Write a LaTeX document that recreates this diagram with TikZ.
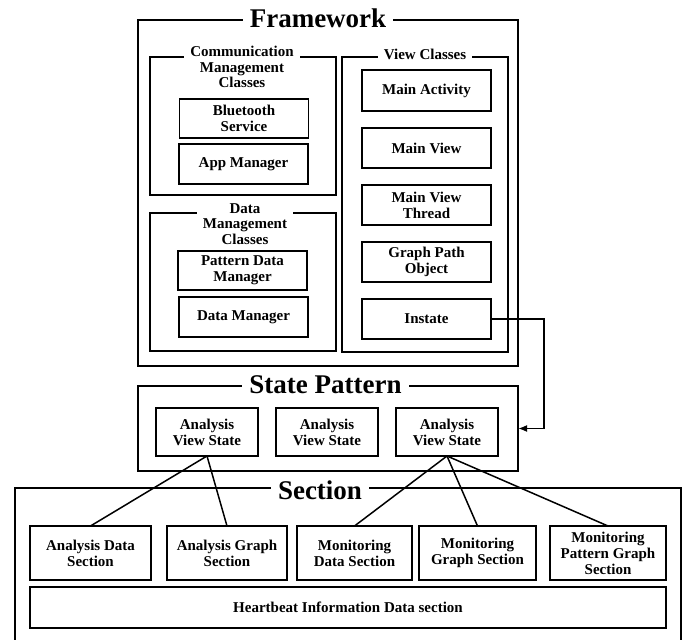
\documentclass[tikz,border=0pt]{standalone}
\usepackage{fontspec}
\setmainfont{Liberation Serif}
\usetikzlibrary{arrows.meta, positioning}

\begin{document}
\begin{tikzpicture}[
      x=1pt, y=-1pt,
      frame/.style={draw=black, line width=1.8pt, inner sep=0pt, outer sep=0pt},
      box/.style={frame, minimum width=129pt, minimum height=40pt, align=center, font=\bfseries\fontsize{15}{16}\selectfont},
      heading/.style={fill=white, inner xsep=7pt, inner ysep=1pt, font=\bfseries\fontsize{27}{30}\selectfont},
      subheading/.style={fill=white, inner xsep=6pt, inner ysep=1pt, align=center, font=\bfseries\fontsize{15}{15.5}\selectfont},
      link/.style={line width=1.5pt},
      feed/.style={line width=1.8pt, -{Latex[length=9pt, width=7pt]}}
    ]
    \useasboundingbox (0,0) rectangle (692,639);
    \clip (0,0) rectangle (692,639);

    % framework
    \node[frame, minimum width=380pt, minimum height=346pt] (framework) at (328,193) {};
    \node[heading] at (318,18) {Framework};

    \node[frame, minimum width=186pt, minimum height=138pt] (comm) at (243,126) {};
    \node[subheading] at (242,67) {Communication\\Management\\Classes};
    \node[box, minimum height=39pt] (bluetooth) at (244,118.5) {Bluetooth\\Service};
    \node[box] (appmgr) at (243.5,164) {App Manager};

    \node[frame, minimum width=186pt, minimum height=138pt] (data) at (243,282) {};
    \node[subheading] at (245,224) {Data\\Management\\Classes};
    \node[box, minimum height=39pt] (patterndata) at (242.5,270.5) {Pattern Data\\Manager};
    \node[box] (datamgr) at (243.5,317) {Data Manager};

    \node[frame, minimum width=166pt, minimum height=295pt] (view) at (425,204.5) {};
    \node[subheading] at (425,54) {View Classes};
    \node[box, minimum height=41pt] (mainact) at (426.5,90.5) {Main Activity};
    \node[box, below=17pt of mainact] (mainview) {Main View};
    \node[box, below=17pt of mainview] (thread) {Main View\\Thread};
    \node[box, below=17pt of thread] (graphpath) {Graph Path\\Object};
    \node[box, below=17pt of graphpath] (instate) {Instate};

    % state pattern
    \node[frame, minimum width=380pt, minimum height=85pt] (pattern) at (328,428.5) {};
    \node[heading] at (325.5,385) {State Pattern};
    \node[box, minimum width=102pt, minimum height=48pt] (analysisA) at (207,432) {Analysis\\View State};
    \node[box, minimum width=102pt, minimum height=48pt, right=18pt of analysisA] (analysisB) {Analysis\\View State};
    \node[box, minimum width=102pt, minimum height=48pt, right=18pt of analysisB] (analysisC) {Analysis\\View State};

    % section
    \node[frame, minimum width=666pt, minimum height=180pt, anchor=north west] (section) at (15,488) {};
    \node[heading] at (320,490) {Section};
    \node[box, minimum width=121pt, minimum height=54pt] (adata) at (90.5,553) {Analysis Data\\Section};
    \node[box, minimum width=120pt, minimum height=54pt] (agraph) at (227,553) {Analysis Graph\\Section};
    \node[box, minimum width=115pt, minimum height=54pt] (mdata) at (354.5,553) {Monitoring\\Data Section};
    \node[box, minimum width=117pt, minimum height=54pt] (mgraph) at (477.5,553) {Monitoring\\Graph Section};
    \node[box, minimum width=116pt, minimum height=54pt] (mpattern) at (608,553) {Monitoring\\Pattern Graph\\Section};
    \node[box, minimum width=636pt, minimum height=41pt] (heartbeat) at (348,607.5) {Heartbeat Information Data section};

    \draw[link] (analysisA.south) -- (adata.north);
    \draw[link] (analysisA.south) -- (agraph.north);
    \draw[link] (analysisC.south) -- (mdata.north);
    \draw[link] (analysisC.south) -- (mgraph.north);
    \draw[link] (analysisC.south) -- (mpattern.north);
    \draw[feed] (instate.east) -- ++(53,0) |- (pattern.east);
  \end{tikzpicture}
\end{document}
